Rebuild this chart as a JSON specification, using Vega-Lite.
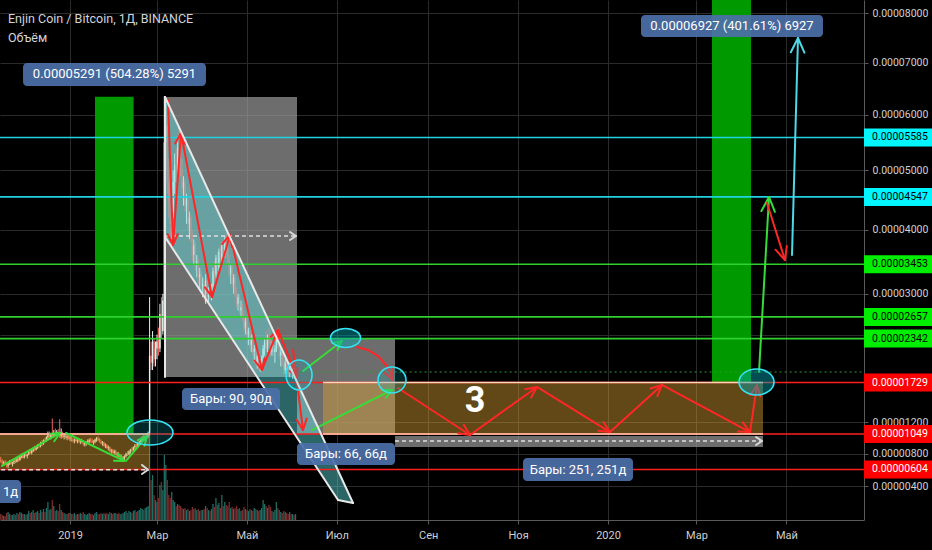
{
"$schema":"https://vega.github.io/schema/vega-lite/v6.json",
"width":864,"height":520,
"autosize":{"type":"none"},
"padding":{"left":0,"top":0,"right":68,"bottom":30},
"background":"#000000",
"config":{"view":{"stroke":null},"text":{"font":"Roboto"}},
"datasets":{
"candles":[
{"t":"2018-11-15","o":720,"h":760,"l":690,"c":700,"v":70},{"t":"2018-11-16","o":700,"h":730,"l":660,"c":680,"v":58},{"t":"2018-11-17","o":680,"h":710,"l":650,"c":690,"v":46},{"t":"2018-11-18","o":690,"h":720,"l":660,"c":670,"v":46},{"t":"2018-11-19","o":670,"h":700,"l":630,"c":650,"v":82},{"t":"2018-11-20","o":650,"h":690,"l":620,"c":680,"v":93},{"t":"2018-11-21","o":680,"h":720,"l":660,"c":700,"v":70},{"t":"2018-11-22","o":700,"h":720,"l":660,"c":670,"v":58},{"t":"2018-11-23","o":670,"h":700,"l":640,"c":690,"v":58},{"t":"2018-11-24","o":690,"h":730,"l":670,"c":710,"v":70},{"t":"2018-11-25","o":710,"h":740,"l":680,"c":700,"v":58},{"t":"2018-11-26","o":700,"h":750,"l":690,"c":740,"v":82},{"t":"2018-11-27","o":740,"h":770,"l":700,"c":720,"v":70},{"t":"2018-11-28","o":720,"h":780,"l":710,"c":760,"v":93},{"t":"2018-11-29","o":760,"h":800,"l":740,"c":780,"v":82},{"t":"2018-11-30","o":780,"h":810,"l":740,"c":750,"v":70},
{"t":"2018-12-01","o":750,"h":800,"l":740,"c":790,"v":70},{"t":"2018-12-02","o":790,"h":820,"l":760,"c":770,"v":58},{"t":"2018-12-03","o":770,"h":800,"l":740,"c":790,"v":70},{"t":"2018-12-04","o":790,"h":840,"l":780,"c":830,"v":105},{"t":"2018-12-05","o":830,"h":860,"l":800,"c":810,"v":82},{"t":"2018-12-06","o":810,"h":850,"l":790,"c":840,"v":93},{"t":"2018-12-07","o":840,"h":880,"l":820,"c":870,"v":117},{"t":"2018-12-08","o":870,"h":900,"l":830,"c":850,"v":82},{"t":"2018-12-09","o":850,"h":890,"l":840,"c":880,"v":93},{"t":"2018-12-10","o":880,"h":920,"l":860,"c":900,"v":105},{"t":"2018-12-11","o":900,"h":930,"l":870,"c":890,"v":82},{"t":"2018-12-12","o":890,"h":950,"l":880,"c":940,"v":117},{"t":"2018-12-13","o":940,"h":970,"l":900,"c":920,"v":93},{"t":"2018-12-14","o":920,"h":980,"l":910,"c":970,"v":129},{"t":"2018-12-15","o":970,"h":1000,"l":940,"c":960,"v":93},{"t":"2018-12-16","o":960,"h":1020,"l":950,"c":1010,"v":140},{"t":"2018-12-17","o":1010,"h":1080,"l":980,"c":1040,"v":211},{"t":"2018-12-18","o":1040,"h":1080,"l":990,"c":1000,"v":117},{"t":"2018-12-19","o":1000,"h":1060,"l":980,"c":1050,"v":129},{"t":"2018-12-20","o":1050,"h":1250,"l":1010,"c":1030,"v":235},{"t":"2018-12-21","o":1030,"h":1100,"l":1000,"c":1060,"v":164},{"t":"2018-12-22","o":1060,"h":1120,"l":1020,"c":1040,"v":105},{"t":"2018-12-23","o":1040,"h":1100,"l":1020,"c":1070,"v":117},{"t":"2018-12-24","o":1070,"h":1110,"l":1030,"c":1050,"v":105},{"t":"2018-12-25","o":1050,"h":1240,"l":1000,"c":1020,"v":188},{"t":"2018-12-26","o":1020,"h":1120,"l":990,"c":1040,"v":117},{"t":"2018-12-27","o":1040,"h":1080,"l":1000,"c":1010,"v":93},{"t":"2018-12-28","o":1010,"h":1050,"l":980,"c":1030,"v":82},{"t":"2018-12-29","o":1030,"h":1060,"l":990,"c":1000,"v":70},{"t":"2018-12-30","o":1000,"h":1040,"l":970,"c":1020,"v":70},{"t":"2018-12-31","o":1020,"h":1050,"l":980,"c":990,"v":82},
{"t":"2019-01-01","o":990,"h":1030,"l":960,"c":1000,"v":82},{"t":"2019-01-02","o":1000,"h":1020,"l":950,"c":970,"v":70},{"t":"2019-01-03","o":970,"h":1000,"l":940,"c":960,"v":70},{"t":"2019-01-04","o":960,"h":990,"l":930,"c":980,"v":82},{"t":"2019-01-05","o":980,"h":1010,"l":950,"c":960,"v":58},{"t":"2019-01-06","o":960,"h":990,"l":930,"c":970,"v":70},{"t":"2019-01-07","o":970,"h":1000,"l":940,"c":950,"v":70},{"t":"2019-01-08","o":950,"h":980,"l":920,"c":960,"v":82},{"t":"2019-01-09","o":960,"h":990,"l":930,"c":940,"v":70},{"t":"2019-01-10","o":940,"h":970,"l":900,"c":920,"v":93},{"t":"2019-01-11","o":920,"h":950,"l":890,"c":930,"v":70},{"t":"2019-01-12","o":930,"h":960,"l":900,"c":940,"v":58},{"t":"2019-01-13","o":940,"h":980,"l":920,"c":950,"v":70},{"t":"2019-01-14","o":950,"h":990,"l":930,"c":970,"v":82},{"t":"2019-01-15","o":970,"h":1000,"l":940,"c":960,"v":70},{"t":"2019-01-16","o":960,"h":990,"l":930,"c":940,"v":70},{"t":"2019-01-17","o":940,"h":970,"l":910,"c":950,"v":58},{"t":"2019-01-18","o":950,"h":990,"l":930,"c":980,"v":82},{"t":"2019-01-19","o":980,"h":1010,"l":950,"c":990,"v":93},{"t":"2019-01-20","o":990,"h":1020,"l":960,"c":970,"v":70},{"t":"2019-01-21","o":970,"h":1000,"l":940,"c":950,"v":70},{"t":"2019-01-22","o":950,"h":980,"l":920,"c":930,"v":82},{"t":"2019-01-23","o":930,"h":960,"l":900,"c":940,"v":70},{"t":"2019-01-24","o":940,"h":950,"l":890,"c":900,"v":82},{"t":"2019-01-25","o":900,"h":930,"l":870,"c":910,"v":70},{"t":"2019-01-26","o":910,"h":920,"l":860,"c":870,"v":82},{"t":"2019-01-27","o":870,"h":900,"l":840,"c":880,"v":70},{"t":"2019-01-28","o":880,"h":890,"l":820,"c":830,"v":93},{"t":"2019-01-29","o":830,"h":860,"l":800,"c":840,"v":82},{"t":"2019-01-30","o":840,"h":860,"l":800,"c":810,"v":70},{"t":"2019-01-31","o":810,"h":850,"l":790,"c":830,"v":82},
{"t":"2019-02-01","o":830,"h":850,"l":780,"c":790,"v":82},{"t":"2019-02-02","o":790,"h":820,"l":760,"c":800,"v":70},{"t":"2019-02-03","o":800,"h":820,"l":750,"c":760,"v":82},{"t":"2019-02-04","o":760,"h":790,"l":730,"c":770,"v":70},{"t":"2019-02-05","o":770,"h":790,"l":730,"c":740,"v":70},{"t":"2019-02-06","o":740,"h":770,"l":710,"c":750,"v":82},{"t":"2019-02-07","o":750,"h":780,"l":720,"c":770,"v":93},{"t":"2019-02-08","o":770,"h":810,"l":750,"c":800,"v":105},{"t":"2019-02-09","o":800,"h":830,"l":770,"c":790,"v":82},{"t":"2019-02-10","o":790,"h":840,"l":780,"c":830,"v":105},{"t":"2019-02-11","o":830,"h":860,"l":800,"c":850,"v":93},{"t":"2019-02-12","o":850,"h":880,"l":820,"c":840,"v":82},{"t":"2019-02-13","o":840,"h":890,"l":830,"c":880,"v":105},{"t":"2019-02-14","o":880,"h":920,"l":860,"c":900,"v":117},{"t":"2019-02-15","o":900,"h":930,"l":870,"c":890,"v":93},{"t":"2019-02-16","o":890,"h":940,"l":880,"c":930,"v":105},{"t":"2019-02-17","o":930,"h":960,"l":900,"c":950,"v":117},{"t":"2019-02-18","o":950,"h":1000,"l":930,"c":980,"v":140},{"t":"2019-02-19","o":980,"h":1020,"l":950,"c":1000,"v":129},{"t":"2019-02-20","o":1000,"h":1040,"l":960,"c":980,"v":117},{"t":"2019-02-21","o":980,"h":1030,"l":960,"c":1020,"v":140},{"t":"2019-02-22","o":1020,"h":1060,"l":990,"c":1040,"v":152},{"t":"2019-02-23","o":1040,"h":1080,"l":1000,"c":1050,"v":164},{"t":"2019-02-24","o":1050,"h":2950,"l":1030,"c":2100,"v":1037},{"t":"2019-02-25","o":2100,"h":2300,"l":1900,"c":2000,"v":475},{"t":"2019-02-26","o":2000,"h":2450,"l":1900,"c":2300,"v":536},{"t":"2019-02-27","o":2300,"h":2350,"l":1950,"c":2050,"v":294},{"t":"2019-02-28","o":2050,"h":2300,"l":1950,"c":2200,"v":235},
{"t":"2019-03-01","o":2200,"h":2400,"l":2050,"c":2300,"v":211},{"t":"2019-03-02","o":2300,"h":2500,"l":2100,"c":2200,"v":259},{"t":"2019-03-03","o":2200,"h":2850,"l":2150,"c":2700,"v":415},{"t":"2019-03-04","o":2700,"h":2950,"l":2350,"c":2450,"v":452},{"t":"2019-03-05","o":2450,"h":3000,"l":2400,"c":2900,"v":354},{"t":"2019-03-06","o":2900,"h":6350,"l":2850,"c":5500,"v":784},{"t":"2019-03-07","o":5500,"h":6200,"l":5000,"c":5800,"v":659},{"t":"2019-03-08","o":5800,"h":6000,"l":4600,"c":4800,"v":475},{"t":"2019-03-09","o":4800,"h":5200,"l":4200,"c":4400,"v":294},{"t":"2019-03-10","o":4400,"h":4900,"l":3900,"c":4100,"v":259},{"t":"2019-03-11","o":4100,"h":4500,"l":3750,"c":4300,"v":330},{"t":"2019-03-12","o":4300,"h":5000,"l":4200,"c":4800,"v":235},{"t":"2019-03-13","o":4800,"h":5300,"l":4600,"c":5100,"v":211},{"t":"2019-03-14","o":5100,"h":5400,"l":4800,"c":5000,"v":164},{"t":"2019-03-15","o":5000,"h":5600,"l":4900,"c":5400,"v":188},{"t":"2019-03-16","o":5400,"h":5750,"l":5100,"c":5300,"v":176},{"t":"2019-03-17","o":5300,"h":5700,"l":4900,"c":5000,"v":164},{"t":"2019-03-18","o":5000,"h":5200,"l":4600,"c":4700,"v":140},{"t":"2019-03-19","o":4700,"h":4900,"l":4400,"c":4800,"v":129},{"t":"2019-03-20","o":4800,"h":4850,"l":4300,"c":4400,"v":140},{"t":"2019-03-21","o":4400,"h":4600,"l":4100,"c":4500,"v":117},{"t":"2019-03-22","o":4500,"h":4550,"l":4000,"c":4100,"v":129},{"t":"2019-03-23","o":4100,"h":4300,"l":3850,"c":4200,"v":105},{"t":"2019-03-24","o":4200,"h":4250,"l":3800,"c":3900,"v":117},{"t":"2019-03-25","o":3900,"h":4000,"l":3500,"c":3600,"v":152},{"t":"2019-03-26","o":3600,"h":3850,"l":3450,"c":3750,"v":129},{"t":"2019-03-27","o":3750,"h":3800,"l":3350,"c":3450,"v":140},{"t":"2019-03-28","o":3450,"h":3600,"l":3250,"c":3500,"v":117},{"t":"2019-03-29","o":3500,"h":3550,"l":3150,"c":3250,"v":129},{"t":"2019-03-30","o":3250,"h":3400,"l":3050,"c":3300,"v":105},{"t":"2019-03-31","o":3300,"h":3350,"l":3000,"c":3100,"v":117},
{"t":"2019-04-01","o":3100,"h":3250,"l":2950,"c":3150,"v":117},{"t":"2019-04-02","o":3150,"h":3200,"l":2900,"c":3000,"v":129},{"t":"2019-04-03","o":3000,"h":3300,"l":2850,"c":3200,"v":164},{"t":"2019-04-04","o":3200,"h":3250,"l":2900,"c":2950,"v":140},{"t":"2019-04-05","o":2950,"h":3100,"l":2850,"c":3050,"v":117},{"t":"2019-04-06","o":3050,"h":3100,"l":2900,"c":2950,"v":105},{"t":"2019-04-07","o":2950,"h":3150,"l":2900,"c":3100,"v":129},{"t":"2019-04-08","o":3100,"h":3400,"l":3050,"c":3350,"v":188},{"t":"2019-04-09","o":3350,"h":3500,"l":3200,"c":3300,"v":152},{"t":"2019-04-10","o":3300,"h":3600,"l":3250,"c":3550,"v":259},{"t":"2019-04-11","o":3550,"h":3650,"l":3350,"c":3400,"v":176},{"t":"2019-04-12","o":3400,"h":3700,"l":3350,"c":3650,"v":199},{"t":"2019-04-13","o":3650,"h":3750,"l":3500,"c":3550,"v":140},{"t":"2019-04-14","o":3550,"h":3800,"l":3500,"c":3750,"v":294},{"t":"2019-04-15","o":3750,"h":3850,"l":3550,"c":3600,"v":164},{"t":"2019-04-16","o":3600,"h":3900,"l":3550,"c":3800,"v":211},{"t":"2019-04-17","o":3800,"h":3950,"l":3600,"c":3700,"v":176},{"t":"2019-04-18","o":3700,"h":3900,"l":3450,"c":3500,"v":164},{"t":"2019-04-19","o":3500,"h":3600,"l":3250,"c":3300,"v":211},{"t":"2019-04-20","o":3300,"h":3450,"l":3150,"c":3400,"v":140},{"t":"2019-04-21","o":3400,"h":3450,"l":3100,"c":3150,"v":152},{"t":"2019-04-22","o":3150,"h":3300,"l":3000,"c":3250,"v":129},{"t":"2019-04-23","o":3250,"h":3300,"l":2950,"c":3000,"v":140},{"t":"2019-04-24","o":3000,"h":3100,"l":2800,"c":2850,"v":164},{"t":"2019-04-25","o":2850,"h":3000,"l":2750,"c":2950,"v":129},{"t":"2019-04-26","o":2950,"h":3000,"l":2700,"c":2750,"v":140},{"t":"2019-04-27","o":2750,"h":2900,"l":2650,"c":2800,"v":105},{"t":"2019-04-28","o":2800,"h":2850,"l":2600,"c":2650,"v":117},{"t":"2019-04-29","o":2650,"h":2750,"l":2450,"c":2500,"v":152},{"t":"2019-04-30","o":2500,"h":2650,"l":2400,"c":2600,"v":129},
{"t":"2019-05-01","o":2600,"h":2650,"l":2350,"c":2400,"v":117},{"t":"2019-05-02","o":2400,"h":2500,"l":2250,"c":2450,"v":105},{"t":"2019-05-03","o":2450,"h":2500,"l":2200,"c":2250,"v":129},{"t":"2019-05-04","o":2250,"h":2400,"l":2150,"c":2350,"v":117},{"t":"2019-05-05","o":2350,"h":2400,"l":2100,"c":2150,"v":105},{"t":"2019-05-06","o":2150,"h":2250,"l":2000,"c":2200,"v":140},{"t":"2019-05-07","o":2200,"h":2250,"l":1950,"c":2000,"v":129},{"t":"2019-05-08","o":2000,"h":2150,"l":1920,"c":2100,"v":117},{"t":"2019-05-09","o":2100,"h":2150,"l":1900,"c":1950,"v":105},{"t":"2019-05-10","o":1950,"h":2050,"l":1880,"c":2000,"v":117},{"t":"2019-05-11","o":2000,"h":2100,"l":1880,"c":2050,"v":140},{"t":"2019-05-12","o":2050,"h":2250,"l":2000,"c":2200,"v":235},{"t":"2019-05-13","o":2200,"h":2350,"l":2100,"c":2300,"v":188},{"t":"2019-05-14","o":2300,"h":2450,"l":2150,"c":2200,"v":164},{"t":"2019-05-15","o":2200,"h":2400,"l":2150,"c":2350,"v":140},{"t":"2019-05-16","o":2350,"h":2500,"l":2250,"c":2300,"v":176},{"t":"2019-05-17","o":2300,"h":2400,"l":2100,"c":2150,"v":152},{"t":"2019-05-18","o":2150,"h":2300,"l":2100,"c":2250,"v":105},{"t":"2019-05-19","o":2250,"h":2350,"l":2100,"c":2150,"v":93},{"t":"2019-05-20","o":2150,"h":2250,"l":2000,"c":2200,"v":117},{"t":"2019-05-21","o":2200,"h":2450,"l":2150,"c":2400,"v":211},{"t":"2019-05-22","o":2400,"h":2500,"l":2200,"c":2250,"v":140},{"t":"2019-05-23","o":2250,"h":2300,"l":2050,"c":2100,"v":117},{"t":"2019-05-24","o":2100,"h":2200,"l":1950,"c":2150,"v":93},{"t":"2019-05-25","o":2150,"h":2200,"l":1950,"c":2000,"v":82},{"t":"2019-05-26","o":2000,"h":2100,"l":1850,"c":1900,"v":105},{"t":"2019-05-27","o":1900,"h":2050,"l":1850,"c":2000,"v":93},{"t":"2019-05-28","o":2000,"h":2050,"l":1850,"c":1900,"v":82},{"t":"2019-05-29","o":1900,"h":1950,"l":1800,"c":1850,"v":70},{"t":"2019-05-30","o":1850,"h":2000,"l":1800,"c":1950,"v":93},{"t":"2019-05-31","o":1950,"h":2000,"l":1800,"c":1850,"v":70},
{"t":"2019-06-01","o":1850,"h":1950,"l":1780,"c":1900,"v":70},{"t":"2019-06-02","o":1900,"h":1950,"l":1780,"c":1820,"v":58},{"t":"2019-06-03","o":1820,"h":1900,"l":1760,"c":1850,"v":70}
],
"levels":[
{"p":5585,"k":"cy","lab":"0.00005585","t":"2018-11-01","t2":"2020-08-10","ts":"2020-06-22T16:00Z","te":"2020-08-12","tx":"2020-06-28T02:00Z"},
{"p":4547,"k":"cy","lab":"0.00004547","t":"2018-11-01","t2":"2020-08-10","ts":"2020-06-22T16:00Z","te":"2020-08-12","tx":"2020-06-28T02:00Z"},
{"p":3453,"k":"gr","lab":"0.00003453","t":"2018-11-01","t2":"2020-08-10","ts":"2020-06-22T16:00Z","te":"2020-08-12","tx":"2020-06-28T02:00Z"},
{"p":2657,"k":"gr","lab":"0.00002657","t":"2018-11-01","t2":"2020-08-10","ts":"2020-06-22T16:00Z","te":"2020-08-12","tx":"2020-06-28T02:00Z"},
{"p":2342,"k":"gr","lab":"0.00002342","t":"2018-11-01","t2":"2020-08-10","ts":"2020-06-22T16:00Z","te":"2020-08-12","tx":"2020-06-28T02:00Z"},
{"p":1729,"k":"rd","lab":"0.00001729","t":"2018-11-01","t2":"2020-08-10","ts":"2020-06-22T16:00Z","te":"2020-08-12","tx":"2020-06-28T02:00Z"},
{"p":1049,"k":"rd","lab":"0.00001049","t":"2018-11-01","t2":"2020-08-10","ts":"2020-06-22T16:00Z","te":"2020-08-12","tx":"2020-06-28T02:00Z"},
{"p":604,"k":"rd","lab":"0.00000604","t":"2018-11-01","t2":"2020-08-10","ts":"2020-06-22T16:00Z","te":"2020-08-12","tx":"2020-06-28T02:00Z"}],
"gray":[{"t":"2019-03-06T11:00Z","t2":"2019-06-04T00:00Z","p":6334,"p2":1804},{"t":"2019-06-04T00:00Z","t2":"2019-08-09T12:00Z","p":2351,"p2":1049},{"t":"2019-08-09T12:00Z","t2":"2020-04-15T03:30Z","p":1023,"p2":884}],
"orange":[{"t":"2018-11-01","t2":"2019-02-24T06:00Z","p":1049,"p2":604},{"t":"2019-06-21T15:00Z","t2":"2020-04-15T03:30Z","p":1729,"p2":1049}],
"bands":[{"t":"2019-01-17T23:00Z","t2":"2019-02-13T02:00Z","p":6340,"p2":1049},{"t":"2020-03-11T13:00Z","t2":"2020-04-07T00:00Z","p":8656,"p2":1729}],
"chan":[{"t":"2019-03-06T11:00Z","p":6334,"p2":3886},{"t":"2019-07-01T19:40Z","p":590,"p2":235},{"t":"2019-07-12T00:00Z","p":199,"p2":199}],
"peach":[{"t":"2018-11-01","t2":"2019-02-24T06:00Z","p":1049},{"t":"2019-06-21T15:00Z","t2":"2020-04-15T03:30Z","p":1729},{"t":"2019-06-21T15:00Z","t2":"2020-04-15T03:30Z","p":1049}],
"dashed":[{"t":"2018-11-01","t2":"2019-02-22T22:00Z","p":600},{"t":"2019-03-06T11:00Z","t2":"2019-06-03T08:00Z","p":3902},{"t":"2019-08-09T12:00Z","t2":"2020-04-14T11:00Z","p":960}],
"dotted":[{"t":"2019-05-30","t2":"2020-08-10","p":1873}],
"ell":[{"t":"2019-02-24T06:30Z","p":1068,"id":"e1"},{"t":"2019-06-05T09:00Z","p":1832,"id":"e2"},{"t":"2019-07-06T22:00Z","p":2351,"id":"e3"},{"t":"2019-08-07T11:00Z","p":1763,"id":"e4"},{"t":"2020-04-10T18:00Z","p":1736,"id":"e5"}],
"lbox":[{"t":"2018-11-30T03:00Z","t2":"2019-04-03T06:00Z","p":6991,"p2":6544},{"t":"2020-01-23T09:00Z","t2":"2020-05-25T20:00Z","p":7964,"p2":7512},{"t":"2019-03-17T23:30Z","t2":"2019-05-23T11:00Z","p":1655,"p2":1361},{"t":"2019-06-04T00:00Z","t2":"2019-08-09T12:00Z","p":934,"p2":659},{"t":"2019-11-04T08:00Z","t2":"2020-01-17T23:00Z","p":746,"p2":463},{"t":"2018-11-01","t2":"2018-11-28T18:00Z","p":475,"p2":199}],
"ltext":[{"t":"2019-01-31T04:30Z","p":6767,"txt":"0.00005291 (504.28%) 5291"},{"t":"2020-03-25T03:00Z","p":7737,"txt":"0.00006927 (401.61%) 6927"},{"t":"2019-04-20T05:30Z","p":1507,"txt":"Бары: 90, 90д"},{"t":"2019-07-07T06:00Z","p":796,"txt":"Бары: 66, 66д"},{"t":"2019-12-11T15:00Z","p":603,"txt":"Бары: 251, 251д"},{"t":"2018-11-21T15:00Z","p":336,"txt":"1д"}],
"titles":[{"t":"2018-11-19T22:30Z","p":7881,"txt":"Enjin Coin / Bitcoin, 1Д, BINANCE"},{"t":"2018-11-19T22:30Z","p":7492,"txt":"Объём"}],
"big":[{"t":"2019-10-02T18:00Z","p":1480,"txt":"3"}],
"segs":[
{"id":"g1","k":"g","t":"2018-11-15T21:00Z","p":647},{"id":"g1","k":"g","t":"2018-12-25T05:00Z","p":1062},
{"id":"g1a","k":"g","t":"2018-12-18T10:00Z","p":1051},{"id":"g1a","k":"g","t":"2018-12-25T05:00Z","p":1062},
{"id":"g1b","k":"g","t":"2018-12-21T07:00Z","p":957},{"id":"g1b","k":"g","t":"2018-12-25T05:00Z","p":1062},
{"id":"g2","k":"g","t":"2018-12-29T07:00Z","p":1062},{"id":"g2","k":"g","t":"2019-02-06T15:00Z","p":709},
{"id":"g2a","k":"g","t":"2019-02-02T09:00Z","p":805},{"id":"g2a","k":"g","t":"2019-02-06T15:00Z","p":709},
{"id":"g2b","k":"g","t":"2019-01-30T20:00Z","p":710},{"id":"g2b","k":"g","t":"2019-02-06T15:00Z","p":709},
{"id":"g3","k":"g","t":"2019-02-08T00:00Z","p":709},{"id":"g3","k":"g","t":"2019-02-22T06:00Z","p":1023},
{"id":"g3a","k":"g","t":"2019-02-16T01:00Z","p":969},{"id":"g3a","k":"g","t":"2019-02-22T06:00Z","p":1023},
{"id":"g3b","k":"g","t":"2019-02-20T11:30Z","p":900},{"id":"g3b","k":"g","t":"2019-02-22T06:00Z","p":1023},
{"id":"g4","k":"g","t":"2019-06-08T02:00Z","p":1887},{"id":"g4","k":"g","t":"2019-07-04T13:00Z","p":2308},
{"id":"g4a","k":"g","t":"2019-06-27T21:00Z","p":2277},{"id":"g4a","k":"g","t":"2019-07-04T13:00Z","p":2308},
{"id":"g4b","k":"g","t":"2019-07-01T10:00Z","p":2181},{"id":"g4b","k":"g","t":"2019-07-04T13:00Z","p":2308},
{"id":"g5","k":"g","t":"2019-06-14T04:00Z","p":1100},{"id":"g5","k":"g","t":"2019-08-07T11:00Z","p":1628},
{"id":"g5a","k":"g","t":"2019-07-31T16:00Z","p":1624},{"id":"g5a","k":"g","t":"2019-08-07T11:00Z","p":1628},
{"id":"g5b","k":"g","t":"2019-08-03T06:00Z","p":1523},{"id":"g5b","k":"g","t":"2019-08-07T11:00Z","p":1628},
{"id":"g6","k":"g","t":"2020-04-12T10:30Z","p":1873},{"id":"g6","k":"g","t":"2020-04-19T05:20Z","p":4546},
{"id":"g6a","k":"g","t":"2020-04-14T01:30Z","p":4310},{"id":"g6a","k":"g","t":"2020-04-19T05:20Z","p":4546},
{"id":"g6b","k":"g","t":"2020-04-23T05:20Z","p":4298},{"id":"g6b","k":"g","t":"2020-04-19T05:20Z","p":4546},
{"id":"c1","k":"c","t":"2020-05-04T19:40Z","p":3599},{"id":"c1","k":"c","t":"2020-05-08T21:20Z","p":7492},
{"id":"c1a","k":"c","t":"2020-05-04T00:15Z","p":7204},{"id":"c1a","k":"c","t":"2020-05-08T21:20Z","p":7492},
{"id":"c1b","k":"c","t":"2020-05-13T05:45Z","p":7196},{"id":"c1b","k":"c","t":"2020-05-08T21:20Z","p":7492},
{"id":"r16","k":"r","t":"2020-04-17T20:40Z","p":4445},{"id":"r16","k":"r","t":"2020-04-30T01:40Z","p":3520},
{"id":"r16a","k":"r","t":"2020-05-01T07:00Z","p":3740},{"id":"r16a","k":"r","t":"2020-04-30T01:40Z","p":3520},
{"id":"r16b","k":"r","t":"2020-04-23T15:00Z","p":3683},{"id":"r16b","k":"r","t":"2020-04-30T01:40Z","p":3520},
{"id":"r1","k":"r","t":"2019-03-08T12:00Z","p":6278},{"id":"r1","k":"r","t":"2019-03-11T21:00Z","p":3758},
{"id":"r1a","k":"r","t":"2019-03-15T02:00Z","p":3935},{"id":"r1a","k":"r","t":"2019-03-11T21:00Z","p":3758},
{"id":"r1b","k":"r","t":"2019-03-08T05:00Z","p":3930},{"id":"r1b","k":"r","t":"2019-03-11T21:00Z","p":3758},
{"id":"r2","k":"r","t":"2019-03-11T21:00Z","p":3758},{"id":"r2","k":"r","t":"2019-03-17T07:30Z","p":5667},
{"id":"r2a","k":"r","t":"2019-03-13T09:00Z","p":5477},{"id":"r2a","k":"r","t":"2019-03-17T07:30Z","p":5667},
{"id":"r2b","k":"r","t":"2019-03-20T05:00Z","p":5464},{"id":"r2b","k":"r","t":"2019-03-17T07:30Z","p":5667},
{"id":"r3","k":"r","t":"2019-03-17T07:30Z","p":5667},{"id":"r3","k":"r","t":"2019-04-07T08:00Z","p":2952},
{"id":"r3a","k":"r","t":"2019-04-09T09:00Z","p":3128},{"id":"r3a","k":"r","t":"2019-04-07T08:00Z","p":2952},
{"id":"r3b","k":"r","t":"2019-04-02T14:00Z","p":3099},{"id":"r3b","k":"r","t":"2019-04-07T08:00Z","p":2952},
{"id":"r4","k":"r","t":"2019-04-07T08:00Z","p":2952},{"id":"r4","k":"r","t":"2019-04-19T13:00Z","p":3919},
{"id":"r4a","k":"r","t":"2019-04-14T04:30Z","p":3774},{"id":"r4a","k":"r","t":"2019-04-19T13:00Z","p":3919},
{"id":"r4b","k":"r","t":"2019-04-20T18:30Z","p":3728},{"id":"r4b","k":"r","t":"2019-04-19T13:00Z","p":3919},
{"id":"r5","k":"r","t":"2019-04-19T13:00Z","p":3919},{"id":"r5","k":"r","t":"2019-05-11T06:00Z","p":1901},
{"id":"r5a","k":"r","t":"2019-05-12T21:30Z","p":2064},{"id":"r5a","k":"r","t":"2019-05-11T06:00Z","p":1901},
{"id":"r5b","k":"r","t":"2019-05-06T04:00Z","p":2031},{"id":"r5b","k":"r","t":"2019-05-11T06:00Z","p":1901},
{"id":"r6","k":"r","t":"2019-05-11T06:00Z","p":1901},{"id":"r6","k":"r","t":"2019-05-22T02:40Z","p":2466},
{"id":"r6a","k":"r","t":"2019-05-17T04:00Z","p":2368},{"id":"r6a","k":"r","t":"2019-05-22T02:40Z","p":2466},
{"id":"r6b","k":"r","t":"2019-05-22T12:30Z","p":2322},{"id":"r6b","k":"r","t":"2019-05-22T02:40Z","p":2466},
{"id":"r7","k":"r","t":"2019-05-22T02:40Z","p":2466},{"id":"r7","k":"r","t":"2019-06-04T00:00Z","p":1791},
{"id":"r7a","k":"r","t":"2019-06-04T10:00Z","p":1929},{"id":"r7a","k":"r","t":"2019-06-04T00:00Z","p":1791},
{"id":"r7b","k":"r","t":"2019-05-30T01:00Z","p":1886},{"id":"r7b","k":"r","t":"2019-06-04T00:00Z","p":1791},
{"id":"r8","k":"r","t":"2019-06-01T07:00Z","p":2180},{"id":"r8","k":"r","t":"2019-06-08T02:00Z","p":1100},
{"id":"r8a","k":"r","t":"2019-06-10T14:00Z","p":1248},{"id":"r8a","k":"r","t":"2019-06-08T02:00Z","p":1100},
{"id":"r8b","k":"r","t":"2019-06-03T17:30Z","p":1233},{"id":"r8b","k":"r","t":"2019-06-08T02:00Z","p":1100},
{"id":"r9","k":"r","t":"2019-07-14T17:00Z","p":2223},{"id":"r9","k":"r","t":"2019-07-22T04:00Z","p":2180},{"id":"r9","k":"r","t":"2019-07-28T23:00Z","p":2095},{"id":"r9","k":"r","t":"2019-08-03T09:00Z","p":1970},{"id":"r9","k":"r","t":"2019-08-06T18:30Z","p":1846},{"id":"r9","k":"r","t":"2019-08-08T03:00Z","p":1763},
{"id":"r9a","k":"r","t":"2019-08-08T02:00Z","p":1929},{"id":"r9a","k":"r","t":"2019-08-08T03:00Z","p":1763},
{"id":"r9b","k":"r","t":"2019-08-01T21:20Z","p":1869},{"id":"r9b","k":"r","t":"2019-08-08T03:00Z","p":1763},
{"id":"r10","k":"r","t":"2019-08-11T12:30Z","p":1655},{"id":"r10","k":"r","t":"2019-09-29T09:00Z","p":1036},
{"id":"r10a","k":"r","t":"2019-09-25T02:30Z","p":1168},{"id":"r10a","k":"r","t":"2019-09-29T09:00Z","p":1036},
{"id":"r10b","k":"r","t":"2019-09-21T07:00Z","p":1058},{"id":"r10b","k":"r","t":"2019-09-29T09:00Z","p":1036},
{"id":"r11","k":"r","t":"2019-09-29T09:00Z","p":1036},{"id":"r11","k":"r","t":"2019-11-13T20:00Z","p":1669},
{"id":"r11a","k":"r","t":"2019-11-05T19:40Z","p":1639},{"id":"r11a","k":"r","t":"2019-11-13T20:00Z","p":1669},
{"id":"r11b","k":"r","t":"2019-11-09T19:40Z","p":1528},{"id":"r11b","k":"r","t":"2019-11-13T20:00Z","p":1669},
{"id":"r12","k":"r","t":"2019-11-13T20:00Z","p":1669},{"id":"r12","k":"r","t":"2020-01-02T08:30Z","p":1074},
{"id":"r12a","k":"r","t":"2019-12-28T21:00Z","p":1204},{"id":"r12a","k":"r","t":"2020-01-02T08:30Z","p":1074},
{"id":"r12b","k":"r","t":"2019-12-25T06:40Z","p":1092},{"id":"r12b","k":"r","t":"2020-01-02T08:30Z","p":1074},
{"id":"r13","k":"r","t":"2020-01-02T08:30Z","p":1074},{"id":"r13","k":"r","t":"2020-02-06T15:00Z","p":1696},
{"id":"r13a","k":"r","t":"2020-01-29T20:00Z","p":1648},{"id":"r13a","k":"r","t":"2020-02-06T15:00Z","p":1696},
{"id":"r13b","k":"r","t":"2020-02-03T10:30Z","p":1546},{"id":"r13b","k":"r","t":"2020-02-06T15:00Z","p":1696},
{"id":"r14","k":"r","t":"2020-02-06T15:00Z","p":1696},{"id":"r14","k":"r","t":"2020-04-06T08:00Z","p":1074},
{"id":"r14a","k":"r","t":"2020-04-01T11:00Z","p":1199},{"id":"r14a","k":"r","t":"2020-04-06T08:00Z","p":1074},
{"id":"r14b","k":"r","t":"2020-03-29T04:30Z","p":1082},{"id":"r14b","k":"r","t":"2020-04-06T08:00Z","p":1074},
{"id":"r15","k":"r","t":"2020-04-06T08:00Z","p":1074},{"id":"r15","k":"r","t":"2020-04-11T02:00Z","p":1696},
{"id":"r15a","k":"r","t":"2020-04-06T14:30Z","p":1561},{"id":"r15a","k":"r","t":"2020-04-11T02:00Z","p":1696},
{"id":"r15b","k":"r","t":"2020-04-13T09:20Z","p":1541},{"id":"r15b","k":"r","t":"2020-04-11T02:00Z","p":1696},
{"id":"w1","k":"w","t":"2019-03-06T11:00Z","p":6334},{"id":"w1","k":"w","t":"2019-07-12T00:00Z","p":199},
{"id":"w2","k":"w","t":"2019-03-06T11:00Z","p":3886},{"id":"w2","k":"w","t":"2019-07-01T19:40Z","p":235},
{"id":"w3","k":"w","t":"2019-07-01T19:40Z","p":235},{"id":"w3","k":"w","t":"2019-07-12T00:00Z","p":199},
{"id":"w4","k":"w","t":"2019-03-06T10:00Z","p":6334},{"id":"w4","k":"w","t":"2019-03-06T11:00Z","p":1804},
{"id":"l1","k":"l","t":"2019-05-30T06:00Z","p":3967},{"id":"l1","k":"l","t":"2019-06-03T08:00Z","p":3902},
{"id":"l2","k":"l","t":"2019-05-30T06:00Z","p":3838},{"id":"l2","k":"l","t":"2019-06-03T08:00Z","p":3902},
{"id":"l3","k":"l","t":"2020-04-10T10:00Z","p":1011},{"id":"l3","k":"l","t":"2020-04-14T11:00Z","p":960},
{"id":"l4","k":"l","t":"2020-04-10T10:00Z","p":909},{"id":"l4","k":"l","t":"2020-04-14T11:00Z","p":960},
{"id":"l5","k":"l","t":"2019-02-18T20:00Z","p":659},{"id":"l5","k":"l","t":"2019-02-22T22:00Z","p":600},
{"id":"l6","k":"l","t":"2019-02-18T20:00Z","p":548},{"id":"l6","k":"l","t":"2019-02-22T22:00Z","p":600}
]
},
"encoding":{
 "x":{"field":"t","type":"temporal",
 "scale":{"type":"utc","domain":[{"year":2018,"month":11,"date":14,"hours":12,"utc":true},{"year":2020,"month":6,"date":22,"hours":16,"utc":true}]},
 "axis":{"values":[{"year":2019,"month":1,"date":1,"utc":true},{"year":2019,"month":3,"date":1,"utc":true},{"year":2019,"month":5,"date":1,"utc":true},{"year":2019,"month":7,"date":1,"utc":true},{"year":2019,"month":9,"date":1,"utc":true},{"year":2019,"month":11,"date":1,"utc":true},{"year":2020,"month":1,"date":1,"utc":true},{"year":2020,"month":3,"date":1,"utc":true},{"year":2020,"month":5,"date":1,"utc":true}],
  "labelExpr":"utcmonth(datum.value) == 0 ? utcFormat(datum.value, '%Y') : (['Янв','Фев','Мар','Апр','Май','Июн','Июл','Авг','Сен','Окт','Ноя','Дек'])[utcmonth(datum.value)]",
  "grid":true,"gridColor":"#2b2b2b","domainColor":"#5a5a5a","tickColor":"#5a5a5a","tickSize":4,"labelColor":"#d0d0d0","labelFont":"Roboto","labelFontSize":11,"labelPadding":5,"title":null,"labelFlush":false}},
 "y":{"field":"p","type":"quantitative",
  "scale":{"type":"symlog","constant":10000,"domain":[0,8280],"nice":false,"zero":false},
  "axis":{"orient":"right","values":[400,800,1200,2400,3000,4000,5000,6000,7000,8000],"labelExpr":"datum.value == 2400 ? '' : format(datum.value / 100000000, '.8f')","grid":true,"gridColor":"#2b2b2b","domainColor":"#5a5a5a","tickColor":"#5a5a5a","tickSize":4,"labelColor":"#d0d0d0","labelFont":"Roboto","labelFontSize":10.5,"labelPadding":4,"title":null,"labelOverlap":false}}
},
"layer":[
  {"data":{"name":"gray"},"mark":{"type":"rect","fill":"#a0a0a0","opacity":0.68},
   "encoding":{"x2":{"field":"t2"},"y2":{"field":"p2"}}},
  {"data":{"name":"candles"},"mark":{"type":"rule","strokeWidth":1.3},
   "encoding":{"y":{"field":"v","type":"quantitative","scale":{"type":"symlog","constant":10000,"domain":[0,8280],"nice":false,"zero":false},"axis":{"title":null}},"y2":{"datum":0},
    "color":{"condition":{"test":"datum.c >= datum.o","value":"#1e6e64"},"value":"#7a2c2c"}}},
  {"data":{"name":"candles"},"mark":{"type":"rule","strokeWidth":1},
   "encoding":{"y":{"field":"l","type":"quantitative","scale":{"type":"symlog","constant":10000,"domain":[0,8280],"nice":false,"zero":false},"axis":{"title":null}},"y2":{"field":"h"},
    "color":{"condition":{"test":"datum.c >= datum.o","value":"#dff5ee"},"value":"#f0605d"}}},
  {"data":{"name":"candles"},"mark":{"type":"rule","strokeWidth":1.4},
   "encoding":{"y":{"field":"o","type":"quantitative","scale":{"type":"symlog","constant":10000,"domain":[0,8280],"nice":false,"zero":false},"axis":{"title":null}},"y2":{"field":"c"},
    "color":{"condition":{"test":"datum.c >= datum.o","value":"#dff5ee"},"value":"#f0605d"}}},
  {"data":{"name":"orange"},"mark":{"type":"rect","fill":"#d9a030","opacity":0.45,"clip":true},
   "encoding":{"x2":{"field":"t2"},"y2":{"field":"p2"}}},
  {"data":{"name":"bands"},"mark":{"type":"rect","fill":"#009a00","clip":true},
   "encoding":{"x2":{"field":"t2"},"y2":{"field":"p2"}}},
  {"data":{"name":"chan"},"mark":{"type":"area","fill":"#5fe0e0","opacity":0.45},
   "encoding":{"y2":{"field":"p2"}}},
  {"data":{"name":"levels"},"mark":{"type":"rule","strokeWidth":1.6,"clip":true},
   "encoding":{"x2":{"field":"t2"},
    "color":{"field":"k","type":"nominal","scale":{"domain":["cy","gr","rd"],"range":["#1fd3e3","#2fd12f","#ff1f1f"]},"legend":null}}},
  {"data":{"name":"dotted"},"mark":{"type":"rule","strokeWidth":1.2,"strokeDash":[2,3],"color":"#2f9a2f","clip":true},
   "encoding":{"x2":{"field":"t2"}}},
  {"data":{"name":"peach"},"mark":{"type":"rule","strokeWidth":1.6,"color":"#ffd6b8","clip":true},
   "encoding":{"x2":{"field":"t2"}}},
  {"data":{"name":"dashed"},"mark":{"type":"rule","strokeWidth":1.4,"strokeDash":[4,3],"color":"#e0e0e0","clip":true},
   "encoding":{"x2":{"field":"t2"}}},
  {"data":{"name":"segs"},"mark":{"type":"line","strokeCap":"round"},
   "encoding":{
    "detail":{"field":"id","type":"nominal"},
    "color":{"field":"k","type":"nominal","scale":{"domain":["g","r","c","w","l"],"range":["#38dc38","#ff2626","#4fd8e8","#e8e8e8","#d8d8d8"]},"legend":null},
    "strokeWidth":{"field":"k","type":"ordinal","scale":{"domain":["g","r","c","w","l"],"range":[2,2,1.6,1.5,1.3]},"legend":null}}},
  {"data":{"name":"ell"},"transform":[{"filter":"datum.id == 'e1'"}],"mark":{"type":"point","filled":true,"fill":"#00c8d8","fillOpacity":0.2,"stroke":"#35e2f2","strokeWidth":1.6,"opacity":1,"size":2116,
    "shape":"M1,0C1,0.3,0.552,0.543,0,0.543C-0.552,0.543,-1,0.3,-1,0C-1,-0.3,-0.552,-0.543,0,-0.543C0.552,-0.543,1,-0.3,1,0Z"}},
  {"data":{"name":"ell"},"transform":[{"filter":"datum.id == 'e2'"}],"mark":{"type":"point","filled":true,"fill":"#00c8d8","fillOpacity":0.2,"stroke":"#35e2f2","strokeWidth":1.6,"opacity":1,"size":676,
    "shape":"M1,0C1,0.637,0.552,1.154,0,1.154C-0.552,1.154,-1,0.637,-1,0C-1,-0.637,-0.552,-1.154,0,-1.154C0.552,-1.154,1,-0.637,1,0Z"}},
  {"data":{"name":"ell"},"transform":[{"filter":"datum.id == 'e3'"}],"mark":{"type":"point","filled":true,"fill":"#00a8b8","fillOpacity":0.45,"stroke":"#35e2f2","strokeWidth":1.6,"opacity":1,"size":900,
    "shape":"M1,0C1,0.35,0.552,0.633,0,0.633C-0.552,0.633,-1,0.35,-1,0C-1,-0.35,-0.552,-0.633,0,-0.633C0.552,-0.633,1,-0.35,1,0Z"}},
  {"data":{"name":"ell"},"transform":[{"filter":"datum.id == 'e4'"}],"mark":{"type":"point","filled":true,"fill":"#00c8d8","fillOpacity":0.2,"stroke":"#35e2f2","strokeWidth":1.6,"opacity":1,"size":784,
    "shape":"M1,0C1,0.514,0.552,0.93,0,0.93C-0.552,0.93,-1,0.514,-1,0C-1,-0.514,-0.552,-0.93,0,-0.93C0.552,-0.93,1,-0.514,1,0Z"}},
  {"data":{"name":"ell"},"transform":[{"filter":"datum.id == 'e5'"}],"mark":{"type":"point","filled":true,"fill":"#00a8b8","fillOpacity":0.45,"stroke":"#35e2f2","strokeWidth":1.6,"opacity":1,"size":1225,
    "shape":"M1,0C1,0.41,0.552,0.743,0,0.743C-0.552,0.743,-1,0.41,-1,0C-1,-0.41,-0.552,-0.743,0,-0.743C0.552,-0.743,1,-0.41,1,0Z"}},
  {"data":{"name":"lbox"},"mark":{"type":"rect","fill":"#4b6fa8","opacity":0.93,"cornerRadius":4,"clip":true},
   "encoding":{"x2":{"field":"t2"},"y2":{"field":"p2"}}},
  {"data":{"name":"ltext"},"mark":{"type":"text","color":"#ffffff","fontSize":13,"font":"Roboto","align":"center","baseline":"middle"},
   "encoding":{"text":{"field":"txt"}}},
  {"data":{"name":"big"},"mark":{"type":"text","color":"#ffffff","fontSize":36,"fontWeight":"bold","font":"Roboto","align":"center","baseline":"middle"},
   "encoding":{"text":{"field":"txt"}}},
  {"data":{"name":"titles"},"mark":{"type":"text","color":"#d1d4dc","fontSize":12.5,"font":"Roboto","align":"left","baseline":"middle"},
   "encoding":{"text":{"field":"txt"}}},
  {"data":{"name":"levels"},"mark":{"type":"rule","strokeWidth":18,"strokeCap":"butt"},
   "encoding":{"x":{"field":"ts","type":"temporal"},"x2":{"field":"te"},
    "color":{"field":"k","type":"nominal","scale":{"domain":["cy","gr","rd"],"range":["#00f5ff","#00ee00","#ff0000"]},"legend":null}}},
  {"data":{"name":"levels"},"mark":{"type":"text","fontSize":10.5,"font":"Roboto","align":"left","baseline":"middle"},
   "encoding":{"x":{"field":"tx","type":"temporal"},
    "text":{"field":"lab"},
    "color":{"field":"k","type":"nominal","scale":{"domain":["cy","gr","rd"],"range":["#000000","#000000","#ffffff"]},"legend":null}}}
],
"resolve":{"scale":{"color":"independent","strokeWidth":"independent"}}
}
